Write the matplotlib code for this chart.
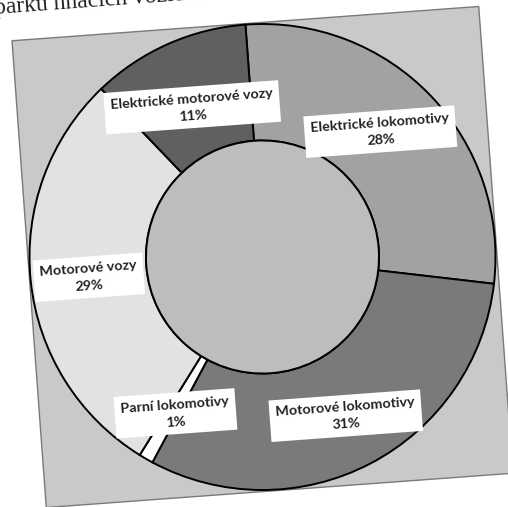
import matplotlib
matplotlib.use("Agg")
import matplotlib.pyplot as plt
from matplotlib.patches import Rectangle, Circle
from matplotlib.transforms import Affine2D
import numpy as np

# ---- data ----
categories = ["Elektrické lokomotivy", "Motorové lokomotivy", "Parní lokomotivy",
              "Motorové vozy", "Elektrické motorové vozy"]
shares = [28, 31, 1, 29, 11]
colors = ["#a2a2a2", "#7a7a7a", "#ffffff", "#e2e2e2", "#606060"]
caption = "parku hnacích vozidel"

# ---- layout (pixels) ----
W, H = 508, 507
cx, cy = 262.5, H - 257
tilt = 4.2          # page is a bit skewed on the scan
r_out = 233
r_in = 116.5
half = 234

fig = plt.figure(figsize=(W / 100, H / 100), dpi=100)
ax = fig.add_axes([0, 0, 1, 1])

tr = Affine2D().rotate_deg(tilt).translate(cx, cy) + ax.transData

# chart area background
ax.add_patch(Rectangle((-half, -half), 2 * half, 2 * half, fc="#c9c9c9",
                       ec="#7a7a7a", lw=1.0, transform=tr, zorder=1))

wedges, _ = ax.pie(shares, colors=colors, startangle=90, counterclock=False,
                   radius=r_out, center=(0, 0),
                   wedgeprops=dict(width=r_out - r_in, edgecolor="black", linewidth=1.4))
for w in wedges:
    w.set_transform(tr)
    w.set_zorder(2)

# hole
ax.add_patch(Circle((0, 0), r_in, fc="#bdbdbd", ec="black", lw=1.4, transform=tr, zorder=3))

# data labels in the middle of the ring
cum = np.cumsum([0] + shares[:-1])
r_lab = (r_out + r_in) / 2
lab_shift = [(-8, 5), (2, -4), (0, -5), (0, -2), (0, -10)]
for name, s, c0, (dx, dy) in zip(categories, shares, cum, lab_shift):
    mid = np.deg2rad(90 - 3.6 * (c0 + s / 2))
    x = r_lab * np.cos(mid) + dx
    y = r_lab * np.sin(mid) + dy
    ax.text(x, y, f"{name}\n{s}%", transform=tr, rotation=tilt, rotation_mode="anchor",
            ha="center", va="center", multialignment="center", fontsize=10.3,
            fontweight="bold", family=["Lato", "DejaVu Sans"], color="#222222",
            linespacing=1.5, bbox=dict(fc="white", ec="none", pad=4.5), zorder=4)

# text of the page above the chart, cut by the scan edge
ax.text(-249, 262, caption, transform=tr, rotation=tilt, rotation_mode="anchor",
        ha="left", va="baseline", fontsize=17, family="Liberation Serif",
        color="#222222", zorder=4)

ax.set_xlim(0, W)
ax.set_ylim(0, H)
ax.set_aspect("auto")
ax.axis("off")

fig.savefig("out.png", dpi=100, facecolor="white")
